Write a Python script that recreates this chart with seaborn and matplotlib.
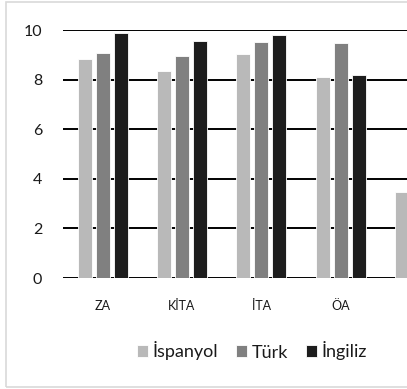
import numpy as np
import pandas as pd
import matplotlib
matplotlib.use("Agg")
import matplotlib.pyplot as plt
from matplotlib.patches import Rectangle
import seaborn as sns

# Scores per assessment area for the three language groups
categories = ["ZA", "KİTA", "İTA", "ÖA", "GA"]
groups = ["İspanyol", "Türk", "İngiliz"]
ispanyol = [8.83, 8.35, 9.02, 8.10, 3.48]
turk = [9.08, 8.94, 9.50, 9.48, np.nan]
ingiliz = [9.88, 9.57, 9.80, 8.20, np.nan]
y_ticks = [0, 2, 4, 6, 8, 10]

colors = ["#b9b9b9", "#808080", "#1d1d1d"]

df = pd.DataFrame({
    "kategori": categories * 3,
    "grup": [g for g in groups for _ in categories],
    "puan": ispanyol + turk + ingiliz,
})

sns.set_theme(style="white")
plt.rcParams["font.family"] = ["Lato", "DejaVu Sans"]

W, H = 407, 389
fig = plt.figure(figsize=(W / 100, H / 100), dpi=100)

# Plot area runs past the right edge of the canvas
left_px, bottom_px, top_px, cat_px = 63, 278, 30, 79.3
ax = fig.add_axes([left_px / W, (H - bottom_px) / H,
                   cat_px * len(categories) / W, (bottom_px - top_px) / H])

sns.barplot(data=df, x="kategori", y="puan", hue="grup",
            order=categories, hue_order=groups, palette=colors,
            width=0.68, gap=0.22, edgecolor="white", linewidth=0.6,
            errorbar=None, ax=ax, zorder=3)

ax.set_ylim(0, 10)
ax.set_xlim(-0.5, len(categories) - 0.5)
ax.set_yticks(y_ticks)
ax.set_yticklabels([str(t) for t in y_ticks], fontsize=11.5, color="#1a1a1a")
ax.tick_params(axis="y", length=0, pad=15)
ax.tick_params(axis="x", length=0, pad=16, labelsize=9, labelcolor="#1a1a1a")
# the last category's label falls outside the canvas
ax.get_xticklabels()[-1].set_visible(False)
ax.set_xlabel("")
ax.set_ylabel("")
for s in ax.spines.values():
    s.set_visible(False)
ax.yaxis.grid(True, color="black", linewidth=1.4, zorder=1)
ax.set_axisbelow(True)

handles, labels = ax.get_legend_handles_labels()
ax.get_legend().remove()
fig.legend(handles, labels, loc="center", ncol=3, frameon=False,
           bbox_to_anchor=(252 / W, 1 - 351 / H), fontsize=13,
           handlelength=0.6, handleheight=0.6, handletextpad=0.25,
           columnspacing=1.0, labelcolor="#1a1a1a")

# Light outer frame of the chart
fig.patches.append(Rectangle((5.5 / W, 2.5 / H), 1.2, (H - 4) / H,
                             transform=fig.transFigure, fill=False,
                             edgecolor="#d9d9d9", linewidth=1.2))

fig.savefig("out.png", dpi=100)
